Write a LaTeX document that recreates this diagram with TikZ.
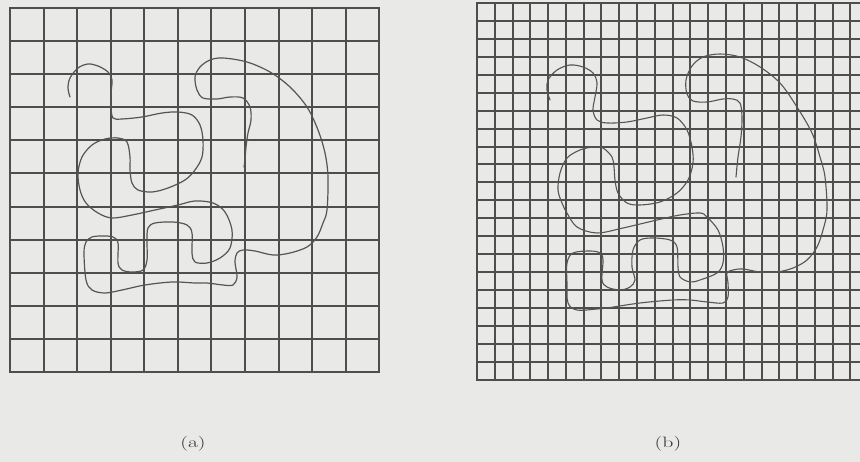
\documentclass[tikz,border=0pt]{standalone}
\usepackage{graphicx}
\definecolor{paper}{RGB}{233,233,231}
\definecolor{gridc}{RGB}{78,78,78}
\definecolor{curvec}{RGB}{85,85,85}
\begin{document}
\begin{tikzpicture}[x=1pt,y=-1pt,
  gridline/.style={draw=gridc,line width=2pt},
  curveline/.style={draw=curvec,line width=1.2pt,line cap=round,line join=round},
  lbl/.style={font=\fontsize{15}{18}\selectfont,text=black!80,inner sep=0pt}]
\fill[paper] (0,0) rectangle (860,462);
\useasboundingbox (0,0) rectangle (860,462);
% grid (a): 11 x 11 cells
\foreach \x in {10,44,77,111,144,178,211,245,279,312,346,379}
  \draw[gridline] (\x,7) -- (\x,373);
\foreach \y in {8,41,74,107,140,173,207,240,273,306,339,372}
  \draw[gridline] (9,\y) -- (380,\y);
% grid (b): finer grid, cut by the right edge
\begin{scope}
\clip (0,0) rectangle (860,462);
\foreach \x in {477,495,513,530,548,566,584,601,619,637,655,673,690,708,726,744,762,779,797,815,833,850,868}
  \draw[gridline] (\x,2) -- (\x,381);
\foreach \y in {3,21,39,57,75,93,111,129,147,164,182,200,218,236,254,272,290,308,326,344,362,380}
  \draw[gridline] (476,\y) -- (869,\y);
\end{scope}
% curve (a)
\draw[curveline] plot[smooth,tension=0.55] coordinates {
(70,97) (68,88) (70,78) (78,68) (88,64) (98,66) (108,72) (112,80) (111,93) (111,107) (113,118)
(122,119) (142,117) (162,113) (178,112) (192,115) (200,125) (203,140) (202,157) (195,170)
(185,180) (168,188) (152,192) (138,190) (132,183) (130,170) (130,157) (127,142) (118,138)
(105,139) (92,145) (82,157) (78,173) (80,190) (86,203) (98,213) (112,218) (132,215) (155,210)
(178,205) (195,201) (213,203) (225,212) (232,230) (230,248) (220,258) (207,263) (195,262)
(192,253) (192,233) (187,225) (173,222) (155,223) (148,228) (147,240) (147,260) (143,270)
(132,272) (122,270) (118,263) (118,243) (113,237) (102,236) (92,237) (86,242) (84,253)
(86,280) (92,290) (105,293) (122,290) (145,285) (172,282) (195,283) (207,283) (223,285)
(233,285) (237,277) (235,262) (237,253) (243,250) (255,251) (273,255) (290,253) (307,247)
(317,237) (323,223) (327,210) (328,177) (325,153) (318,130) (307,107) (290,87) (270,72)
(247,62) (223,58) (210,60) (200,67) (195,77) (197,90) (203,98) (217,99) (230,97) (243,98)
(250,107) (251,120) (248,133) (246,147) (245,160) (244,167)};
% curve (b)
\draw[curveline,line width=1.1pt] plot[smooth,tension=0.55] coordinates {
(550,100) (547,90) (548,80) (557,70) (570,65) (583,67) (593,73) (597,83) (595,97) (593,110)
(597,120) (607,123) (627,122) (647,118) (663,115) (677,118) (687,130) (692,147) (693,163)
(688,180) (677,193) (660,202) (640,205) (627,203) (618,193) (615,180) (614,167) (612,157)
(603,148) (593,147) (580,150) (567,158) (560,173) (558,190) (562,203) (567,213) (577,227)
(597,233) (623,228) (657,220) (680,215) (700,213) (707,217) (718,230) (723,247) (723,263)
(717,273) (700,280) (690,282) (680,277) (678,267) (677,247) (670,240) (653,238) (640,240)
(633,250) (632,267) (635,280) (630,287) (620,290) (607,287) (602,280) (603,260) (600,253)
(590,251) (573,253) (567,263) (567,283) (568,303) (577,310) (597,309) (607,308) (640,303)
(673,300) (690,300) (707,302) (723,303) (728,297) (728,283) (727,273) (733,270) (743,269)
(760,272) (777,272) (793,268) (807,260) (817,247) (823,230) (827,210) (825,177) (820,157)
(812,133) (797,107) (780,83) (760,67) (740,57) (720,54) (703,57) (692,66) (686,80) (687,94)
(693,101) (707,102) (723,99) (733,99) (740,103) (742,117) (741,137) (738,157) (736,177)};
% captions
\node[lbl] (capa) at (193,444) {\scalebox{1.45}[1]{(a)}};
\node[lbl] (capb) at (668,444) {\scalebox{1.45}[1]{(b)}};
\end{tikzpicture}
\end{document}
